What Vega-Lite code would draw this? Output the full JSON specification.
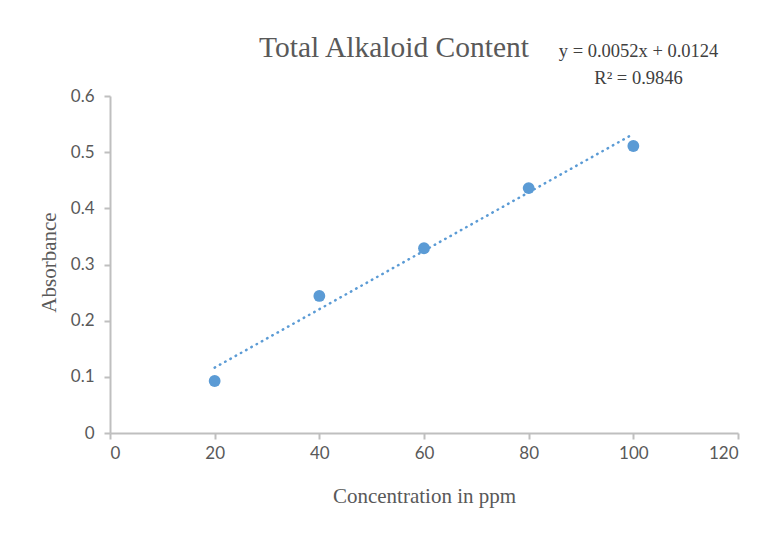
{
  "$schema": "https://vega.github.io/schema/vega-lite/v6.json",
  "width": 628,
  "height": 337,
  "autosize": {"type": "none"},
  "padding": {"left": 110, "top": 96, "right": 28, "bottom": 107},
  "background": "white",
  "config": {"view": {"stroke": null}},
  "title": {
    "text": "Total Alkaloid  Content",
    "font": "Liberation Serif",
    "fontSize": 29.5,
    "fontWeight": "normal",
    "color": "#595959",
    "anchor": "middle",
    "dx": -30,
    "offset": -22
  },
  "layer": [
    {
      "data": {"values": [
        {"concentration": 20, "trend": 0.1164},
        {"concentration": 100, "trend": 0.5324}
      ]},
      "mark": {"type": "line", "color": "#5b9bd5", "strokeWidth": 2.5, "strokeDash": [0.5, 5.5], "strokeCap": "round"},
      "encoding": {
        "x": {"field": "concentration", "type": "quantitative", "scale": {"domain": [0, 120], "nice": false}},
        "y": {"field": "trend", "type": "quantitative", "scale": {"domain": [0, 0.6], "nice": false}}
      }
    },
    {
      "data": {"values": [
        {"concentration": 20, "absorbance": 0.0926},
        {"concentration": 40, "absorbance": 0.244},
        {"concentration": 60, "absorbance": 0.329},
        {"concentration": 80, "absorbance": 0.436},
        {"concentration": 100, "absorbance": 0.511}
      ]},
      "mark": {"type": "point", "filled": true, "color": "#5b9bd5", "opacity": 1, "size": 140},
      "encoding": {
        "x": {
          "field": "concentration", "type": "quantitative",
          "scale": {"domain": [0, 120], "nice": false},
          "axis": {
            "title": "Concentration in ppm",
            "values": [0, 20, 40, 60, 80, 100, 120],
            "grid": false,
            "domainColor": "#bfbfbf", "domainWidth": 2,
            "tickColor": "#bfbfbf", "tickWidth": 2, "tickSize": 6,
            "labelFont": "Lato", "labelFontSize": 17, "labelColor": "#595959", "labelPadding": 6,
            "titleFont": "Liberation Serif", "titleFontSize": 21, "titleFontWeight": "normal", "titleColor": "#595959",
            "titleBaseline": "alphabetic", "titleY": 69
          }
        },
        "y": {
          "field": "absorbance", "type": "quantitative",
          "scale": {"domain": [0, 0.6], "nice": false},
          "axis": {
            "title": "Absorbance",
            "values": [0, 0.1, 0.2, 0.3, 0.4, 0.5, 0.6],
            "format": ".1~f",
            "grid": false,
            "domainColor": "#bfbfbf", "domainWidth": 2,
            "tickColor": "#bfbfbf", "tickWidth": 2, "tickSize": 6,
            "labelFont": "Lato", "labelFontSize": 17, "labelColor": "#595959", "labelPadding": 10,
            "titleFont": "Liberation Serif", "titleFontSize": 21, "titleFontWeight": "normal", "titleColor": "#595959",
            "titleBaseline": "alphabetic", "titleX": -55, "titleY": 166
          }
        }
      }
    },
    {
      "data": {"values": [{"equation": "y = 0.0052x + 0.0124"}]},
      "mark": {"type": "text", "font": "Liberation Serif", "fontSize": 18.5, "color": "#404040", "align": "center", "baseline": "alphabetic", "lineHeight": 27,
        "text": ["y = 0.0052x + 0.0124", "R² = 0.9846"]},
      "encoding": {
        "x": {"datum": 101},
        "y": {"datum": 0.67}
      }
    }
  ]
}
